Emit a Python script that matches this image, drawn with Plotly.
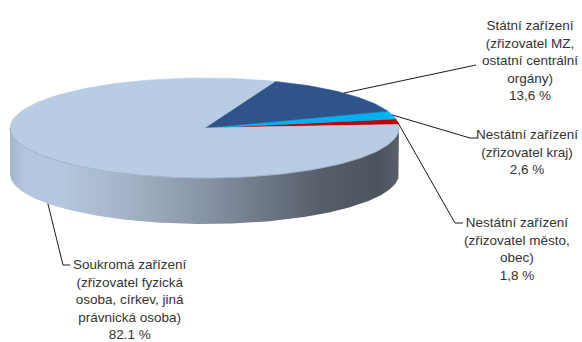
import numpy as np
import plotly.graph_objects as go

# ---- data ----
categories = ["Nestátní zařízení (zřizovatel město, obec)",
              "Nestátní zařízení (zřizovatel kraj)",
              "Státní zařízení (zřizovatel MZ, ostatní centrální orgány)",
              "Soukromá zařízení (zřizovatel fyzická osoba, církev, jiná právnická osoba)"]
values = [1.8, 2.6, 13.6, 82.1]
label_texts = ["Nestátní zařízení<br>(zřizovatel město,<br>obec)<br>1,8 %",
               "Nestátní zařízení<br>(zřizovatel kraj)<br>2,6 %",
               "Státní zařízení<br>(zřizovatel MZ,<br>ostatní centrální<br>orgány)<br>13,6 %",
               "Soukromá zařízení<br>(zřizovatel fyzická<br>osoba, církev, jiná<br>právnická osoba)<br>82.1 %"]

# ---- styles / layout ----
colors = ["#C00000", "#00B0F0", "#2F5489", "#B8CCE4"]
W, H = 582, 342
cx, cy, rx, ry, depth = 204.5, 128.0, 194.5, 50.0, 46.0
start_deg = 4.0
label_pos = [(517, 249), (527, 152), (530, 60), (130, 299)]
leader_bends = [[(455, 223), (463, 223)],
                [(470, 138), (477, 138)],
                [(476, 65)],
                [(63, 265), (70, 265)]]

def pt(t, dy=0.0):
    return cx + rx * np.cos(t), cy - ry * np.sin(t) + dy

fig = go.Figure()

# side wall (front half)
t = np.linspace(np.pi, 2 * np.pi, 200)
xs_top, ys_top = pt(t)
xs_bot, ys_bot = pt(t[::-1], depth)
fig.add_trace(go.Scatter(
    x=np.concatenate([xs_top, xs_bot]), y=np.concatenate([ys_top, ys_bot]),
    mode="lines", fill="toself", line=dict(width=0, color="rgba(0,0,0,0)"),
    fillgradient=dict(type="horizontal", colorscale=[
        [0.0, "#A3B6D0"], [0.04, "#B4C6DE"], [0.12, "#B6C8DF"], [0.3, "#A4B3C7"],
        [0.5, "#8794A6"], [0.65, "#6E7886"], [0.8, "#565E69"], [0.95, "#4C535D"],
        [1.0, "#5A616B"]]),
    hoverinfo="skip", showlegend=False))

# top face slices
total = sum(values)
angles = np.radians(start_deg + 360 * np.concatenate([[0], np.cumsum(values)]) / total)
for i, v in enumerate(values):
    a0, a1 = angles[i], angles[i + 1]
    tt = np.linspace(a0, a1, max(3, int(200 * v / total) + 3))
    ax_, ay_ = pt(tt)
    fig.add_trace(go.Scatter(
        x=np.concatenate([[cx], ax_, [cx]]), y=np.concatenate([[cy], ay_, [cy]]),
        mode="lines", fill="toself", fillcolor=colors[i],
        line=dict(width=0.6, color=colors[i]),
        name=categories[i], hoverinfo="name", showlegend=False))

# edge between top and side
ex, ey = pt(t)
fig.add_trace(go.Scatter(x=ex, y=ey, mode="lines", line=dict(width=0.8, color="#98AAC2"),
                         hoverinfo="skip", showlegend=False))

# leader lines
for i, v in enumerate(values):
    mid = (angles[i] + angles[i + 1]) / 2
    on_front = np.sin(mid) < 0 and abs(np.cos(mid)) > 0.5
    sx, sy = pt(mid, depth if on_front else 0.0)
    px = [sx] + [p[0] for p in leader_bends[i]]
    py = [sy] + [p[1] for p in leader_bends[i]]
    fig.add_trace(go.Scatter(x=px, y=py, mode="lines", line=dict(width=1, color="#1A1A1A"),
                             hoverinfo="skip", showlegend=False))

# labels
for i, txt in enumerate(label_texts):
    fig.add_annotation(x=label_pos[i][0], y=label_pos[i][1], text=txt, showarrow=False,
                       xanchor="center", yanchor="middle", align="center",
                       font=dict(family="Liberation Sans, Arial, sans-serif", size=13.5,
                                 color="#333333"))

fig.update_layout(
    width=W, height=H, autosize=False,
    margin=dict(l=0, r=0, t=0, b=0),
    paper_bgcolor="white", plot_bgcolor="white",
    xaxis=dict(range=[0, W], visible=False, fixedrange=True),
    yaxis=dict(range=[H, 0], visible=False, fixedrange=True),
    showlegend=False,
)

fig.write_html("out.html")
